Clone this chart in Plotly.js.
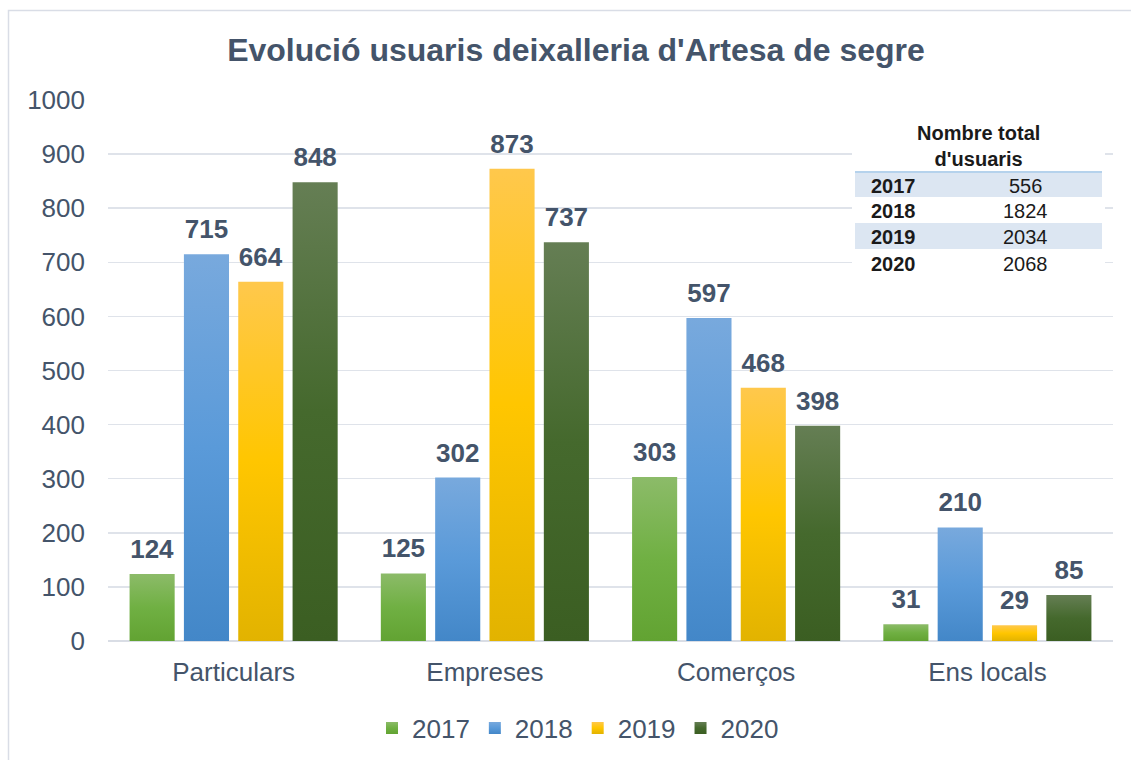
<!DOCTYPE html>
<html>
<head>
<meta charset="utf-8">
<script src="https://cdn.plot.ly/plotly-3.0.1.min.js"></script>
<style>
  html, body { margin: 0; padding: 0; background: #ffffff; }
  #chart { width: 1131px; height: 760px; }
</style>
</head>
<body>
<div id="chart"></div>
<script>
// ---- Data ----
const categories = ['Particulars', 'Empreses', 'Comerços', 'Ens locals'];
const seriesNames = ['2017', '2018', '2019', '2020'];
const users2017 = [124, 125, 303, 31];
const users2018 = [715, 302, 597, 210];
const users2019 = [664, 873, 468, 29];
const users2020 = [848, 737, 398, 85];
const totalYears = ['2017', '2018', '2019', '2020'];
const totalUsers = [556, 1824, 2034, 2068];
const tableTitle = "Nombre total<br>d'usuaris";
const chartTitle = "Evolució usuaris deixalleria d'Artesa de segre";

// ---- Styles ----
const baseColors = ['#70ad47', '#5b9bd5', '#ffc000', '#43682b'];
const gradStops = [
  ['#8cbb69', '#70b043', '#62a332'],
  ['#78a9dd', '#5a9ad9', '#4387c8'],
  ['#ffc84c', '#ffc600', '#e2b300'],
  ['#657e54', '#45692d', '#3b5e22']
];
const textColor = '#44546a';
const font = "Arial, 'Liberation Sans', sans-serif";

const W = 1131, H = 760;
const M = {l: 108, r: 18, t: 100, b: 119};
const PW = W - M.l - M.r, PH = H - M.t - M.b;
const px2x = px => (px - M.l) / PW;
const py2y = py => (H - M.b - py) / PH;

const allSeries = [users2017, users2018, users2019, users2020];
const traces = allSeries.map((vals, i) => ({
  type: 'bar',
  name: seriesNames[i],
  x: categories,
  y: vals,
  marker: {color: baseColors[i], line: {width: 0}},
  text: vals.map(String),
  textposition: 'outside',
  textfont: {family: font, size: 26, color: textColor, weight: 'bold'},
  cliponaxis: false,
  hoverinfo: 'x+y+name'
}));

// Table of totals (shapes + annotations)
const shapes = [
  {type: 'rect', xref: 'paper', yref: 'paper', layer: 'above',
   x0: px2x(852), x1: px2x(1105), y0: py2y(282), y1: py2y(112),
   fillcolor: '#ffffff', line: {width: 0}},
  {type: 'rect', xref: 'paper', yref: 'paper', layer: 'above',
   x0: px2x(855), x1: px2x(1102), y0: py2y(197), y1: py2y(173),
   fillcolor: '#dce6f2', line: {width: 0}},
  {type: 'rect', xref: 'paper', yref: 'paper', layer: 'above',
   x0: px2x(855), x1: px2x(1102), y0: py2y(249), y1: py2y(223),
   fillcolor: '#dce6f2', line: {width: 0}},
  {type: 'line', xref: 'paper', yref: 'paper', layer: 'above',
   x0: px2x(855), x1: px2x(1102), y0: py2y(172), y1: py2y(172),
   line: {color: '#9dc3e6', width: 1.5}},
  // outer chart border
  {type: 'rect', xref: 'paper', yref: 'paper', layer: 'below',
   x0: px2x(8.5), x1: px2x(1140), y0: py2y(770), y1: py2y(10.5),
   fillcolor: 'rgba(0,0,0,0)', line: {color: '#d9dde6', width: 1.5}}
];

const rowY = [186, 211, 237, 264];
const annotations = [
  {xref: 'paper', yref: 'paper', x: px2x(978), y: py2y(146),
   xanchor: 'center', yanchor: 'middle', showarrow: false,
   text: '<b>' + tableTitle + '</b>',
   font: {family: font, size: 20, color: '#1a1a1a'}}
];
totalYears.forEach((yr, i) => {
  annotations.push({xref: 'paper', yref: 'paper', x: px2x(869), y: py2y(rowY[i]),
    xanchor: 'left', yanchor: 'middle', showarrow: false,
    text: '<b>' + yr + '</b>', font: {family: font, size: 20, color: '#1a1a1a'}});
  annotations.push({xref: 'paper', yref: 'paper', x: px2x(1025), y: py2y(rowY[i]),
    xanchor: 'center', yanchor: 'middle', showarrow: false,
    text: String(totalUsers[i]), font: {family: font, size: 20, color: '#1a1a1a'}});
});

const layout = {
  width: W, height: H,
  margin: M,
  paper_bgcolor: '#ffffff',
  plot_bgcolor: '#ffffff',
  font: {family: font, color: textColor, size: 26},
  title: {
    text: '<b>' + chartTitle + '</b>',
    font: {family: font, size: 32, color: textColor},
    x: 576 / W, xref: 'container', xanchor: 'center',
    y: 1 - 50 / H, yref: 'container', yanchor: 'middle'
  },
  barmode: 'group',
  bargap: 0.135,
  bargroupgap: 0.17,
  xaxis: {
    type: 'category',
    showgrid: false,
    showline: false,
    ticks: '',
    tickfont: {family: font, size: 26, color: textColor},
    ticklabelstandoff: 13
  },
  yaxis: {
    range: [0, 1000],
    dtick: 100,
    showgrid: true,
    gridcolor: '#dfe3ea',
    gridwidth: 1.5,
    zeroline: true,
    zerolinecolor: '#d9dde5',
    zerolinewidth: 2,
    showline: false,
    ticks: '',
    tickfont: {family: font, size: 26, color: textColor},
    ticklabelstandoff: 22
  },
  legend: {
    orientation: 'h',
    xref: 'container', yref: 'container',
    x: 578 / W, xanchor: 'center',
    y: 1 - 728 / H, yanchor: 'middle',
    font: {family: font, size: 26, color: textColor},
    itemwidth: 30,
    traceorder: 'normal'
  },
  shapes: shapes,
  annotations: annotations,
  showlegend: true
};

Plotly.newPlot('chart', traces, layout, {displayModeBar: false, staticPlot: true}).then(gd => {
  // apply vertical gradients to the bars and legend swatches
  const svg = gd.querySelector('svg.main-svg');
  let defs = svg.querySelector('defs');
  const NS = 'http://www.w3.org/2000/svg';
  if (!defs) { defs = document.createElementNS(NS, 'defs'); svg.insertBefore(defs, svg.firstChild); }
  gradStops.forEach((stops, i) => {
    const lg = document.createElementNS(NS, 'linearGradient');
    lg.setAttribute('id', 'bargrad' + i);
    lg.setAttribute('x1', '0'); lg.setAttribute('y1', '0');
    lg.setAttribute('x2', '0'); lg.setAttribute('y2', '1');
    [[0, stops[0]], [0.5, stops[1]], [1, stops[2]]].forEach(([o, c]) => {
      const s = document.createElementNS(NS, 'stop');
      s.setAttribute('offset', o);
      s.setAttribute('stop-color', c);
      lg.appendChild(s);
    });
    defs.appendChild(lg);
  });
  gd.querySelectorAll('g.barlayer g.trace.bars').forEach((g, i) => {
    g.querySelectorAll('g.point path').forEach(p => { p.style.fill = 'url(#bargrad' + i + ')'; });
    // lift the value labels a little further above the bars
    g.querySelectorAll('g.point text').forEach(t => {
      const tr = t.getAttribute('transform') || '';
      t.setAttribute('transform', 'translate(0,-7) ' + tr);
    });
  });
  gd.querySelectorAll('g.legend g.traces').forEach((g, i) => {
    g.querySelectorAll('g.legendpoints path').forEach(p => { p.style.fill = 'url(#bargrad' + i + ')'; });
  });
});
</script>
</body>
</html>
